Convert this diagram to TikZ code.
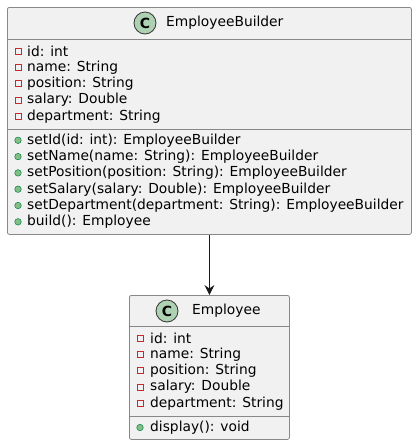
\documentclass[tikz,border=0pt]{standalone}
\usepackage{fontspec}
\setmainfont{DejaVu Sans}
\usetikzlibrary{arrows.meta}
\definecolor{boxfill}{HTML}{F1F1F1}
\definecolor{boxline}{HTML}{888888}
\definecolor{cfill}{HTML}{ADD1B2}
\definecolor{privred}{HTML}{C82930}
\definecolor{pubfill}{HTML}{84BE84}
\definecolor{publine}{HTML}{038048}
\tikzset{
  classbox/.style={draw=boxline, fill=boxfill, line width=0.8pt, rounded corners=2pt, anchor=north west, inner sep=0},
  sepline/.style={draw=boxline, line width=0.8pt},
  cicon/.style={circle, draw=black!80, fill=cfill, line width=0.8pt, minimum size=22pt, inner sep=0, font=\fontsize{14}{14}\selectfont\bfseries},
  title/.style={anchor=west, inner sep=0, font=\fontsize{13.8}{14}\selectfont},
  member/.style={anchor=west, inner sep=0, font=\fontsize{13.8}{14}\selectfont},
  priv/.style={draw=privred, line width=0.7pt, minimum size=6pt, inner sep=0},
  pub/.style={circle, draw=publine, fill=pubfill, line width=0.5pt, minimum size=6.5pt, inner sep=0},
  conn/.style={draw=black!90, line width=0.9pt, -{Stealth[length=10pt,width=10pt,inset=3.5pt]}}
}
\begin{document}
\begin{tikzpicture}[x=1pt,y=-1pt]
\useasboundingbox (0,0) rectangle (417,445);
% EmployeeBuilder
\node[classbox, minimum width=404pt, minimum height=227pt] (eb) at (7,7) {};
\draw[sepline] (7,39) coordinate (ebs1) -- (411,39);
\draw[sepline] (7,129) coordinate (ebs2) -- (411,129);
\node[cicon] (ebc) at (145,23) {C};
\node[title] (ebt) at (166,23) {EmployeeBuilder};
\foreach \y/\t [count=\i] in {51/id: int, 67.3/name: String, 83.6/position: String, 99.9/salary: Double, 116.2/department: String}{
  \node[priv] (ebpi\i) at (18,\y) {};
  \node[member] (eba\i) at (27,\y) {\t};
}
\foreach \y/\t [count=\i] in {140.3/{setId(id: int): EmployeeBuilder}, 156.6/{setName(name: String): EmployeeBuilder}, 172.9/{setPosition(position: String): EmployeeBuilder}, 189.2/{setSalary(salary: Double): EmployeeBuilder}, 205.5/{setDepartment(department: String): EmployeeBuilder}, 221.8/{build(): Employee}}{
  \node[pub] (ebmi\i) at (18,\y) {};
  \node[member] (ebm\i) at (27,\y) {\t};
}
% Employee
\node[classbox, minimum width=160pt, minimum height=144pt] (em) at (129,295) {};
\draw[sepline] (129,326) -- (289,326);
\draw[sepline] (129,416) -- (289,416);
\node[cicon] (emc) at (167,311) {C};
\node[title] (emt) at (192,311) {Employee};
\foreach \y/\t [count=\i] in {338/id: int, 354.3/name: String, 370.6/position: String, 386.9/salary: Double, 403.2/department: String}{
  \node[priv] (empi\i) at (140,\y) {};
  \node[member] (ema\i) at (150,\y) {\t};
}
\node[pub] (emmi1) at (140,427.5) {};
\node[member] (emm1) at (150,427.5) {display(): void};
% connector
\draw[conn] (eb.south -| em.north) -- (em.north);
\end{tikzpicture}
\end{document}
